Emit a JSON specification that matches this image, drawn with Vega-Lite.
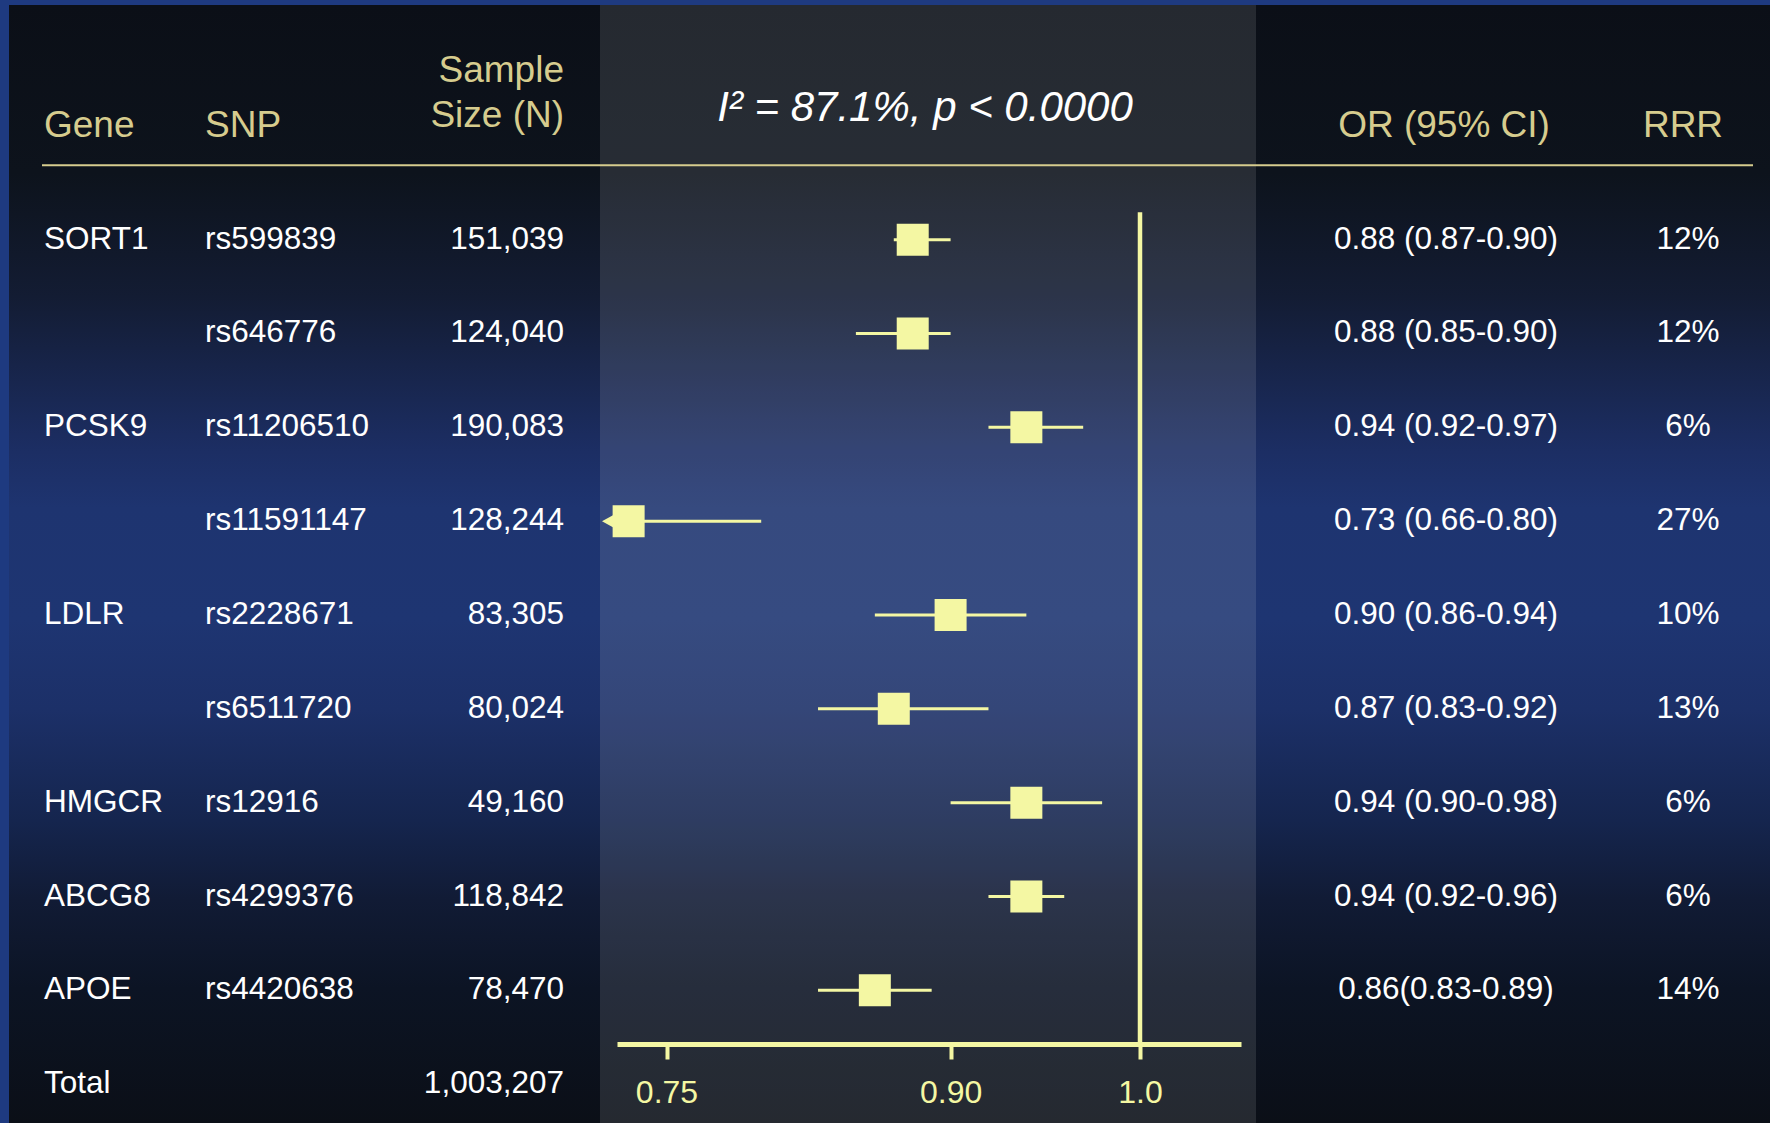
{
  "$schema": "https://vega.github.io/schema/vega-lite/v6.json",
  "width": 1761,
  "height": 1118,
  "autosize": "none",
  "padding": {"left": 9, "top": 5, "right": 0, "bottom": 0},
  "background": "#1e3a80",
  "config": {"view": {"stroke": null}, "font": "Liberation Sans"},
  "datasets": {
    "rows": [
      {"gene": "SORT1", "snp": "rs599839", "n": 151039, "or": 0.88, "lo": 0.87, "hi": 0.90, "ci": "0.88 (0.87-0.90)", "rrr": 0.12},
      {"gene": "SORT1", "snp": "rs646776", "n": 124040, "or": 0.88, "lo": 0.85, "hi": 0.90, "ci": "0.88 (0.85-0.90)", "rrr": 0.12},
      {"gene": "PCSK9", "snp": "rs11206510", "n": 190083, "or": 0.94, "lo": 0.92, "hi": 0.97, "ci": "0.94 (0.92-0.97)", "rrr": 0.06},
      {"gene": "PCSK9", "snp": "rs11591147", "n": 128244, "or": 0.73, "lo": 0.66, "hi": 0.80, "ci": "0.73 (0.66-0.80)", "rrr": 0.27},
      {"gene": "LDLR", "snp": "rs2228671", "n": 83305, "or": 0.90, "lo": 0.86, "hi": 0.94, "ci": "0.90 (0.86-0.94)", "rrr": 0.10},
      {"gene": "LDLR", "snp": "rs6511720", "n": 80024, "or": 0.87, "lo": 0.83, "hi": 0.92, "ci": "0.87 (0.83-0.92)", "rrr": 0.13},
      {"gene": "HMGCR", "snp": "rs12916", "n": 49160, "or": 0.94, "lo": 0.90, "hi": 0.98, "ci": "0.94 (0.90-0.98)", "rrr": 0.06},
      {"gene": "ABCG8", "snp": "rs4299376", "n": 118842, "or": 0.94, "lo": 0.92, "hi": 0.96, "ci": "0.94 (0.92-0.96)", "rrr": 0.06},
      {"gene": "APOE", "snp": "rs4420638", "n": 78470, "or": 0.86, "lo": 0.83, "hi": 0.89, "ci": "0.86(0.83-0.89)", "rrr": 0.14},
      {"gene": "Total", "snp": "Total", "n": 1003207}
    ],
    "headers": [
      {"col": "gene", "label": "Gene"},
      {"col": "snp", "label": "SNP"},
      {"col": "n", "label": "Sample\nSize (N)"},
      {"col": "or", "label": "OR (95% CI)"},
      {"col": "rrr", "label": "RRR"}
    ]
  },
  "resolve": {"scale": {"x": "independent"}},
  "layer": [
    {
      "data": {"values": [{}]},
      "mark": {
        "type": "rect",
        "fill": {
          "gradient": "linear", "x1": 0, "y1": 0, "x2": 0, "y2": 1,
          "stops": [
            {"offset": 0, "color": "#0b0f17"},
            {"offset": 0.15, "color": "#0d131c"},
            {"offset": 0.26, "color": "#131c33"},
            {"offset": 0.4, "color": "#1c2e64"},
            {"offset": 0.45, "color": "#1e3470"},
            {"offset": 0.55, "color": "#1e3572"},
            {"offset": 0.63, "color": "#1c3068"},
            {"offset": 0.73, "color": "#15254e"},
            {"offset": 0.8, "color": "#111b35"},
            {"offset": 0.88, "color": "#0c1424"},
            {"offset": 1, "color": "#0b0f17"}
          ]
        }
      },
      "encoding": {}
    },
    {
      "data": {"values": [{"part": "forest"}]},
      "mark": {"type": "rect", "fill": "#ffffff", "fillOpacity": 0.11},
      "encoding": {
        "x": {"field": "part", "type": "nominal", "scale": {"type": "band", "domain": ["forest"], "range": [591, 1247], "paddingInner": 0, "paddingOuter": 0}, "axis": null}
      }
    },
    {
      "data": {"values": [{}]},
      "mark": {"type": "rule", "color": "#d6cc8e", "strokeWidth": 2, "yOffset": 19.5},
      "encoding": {
        "x": {"datum": "first", "type": "nominal", "scale": {"type": "point", "domain": ["first", "last"], "range": [33, 1744], "padding": 0}, "axis": null},
        "x2": {"datum": "last"},
        "y": {"datum": "hdr", "type": "nominal", "scale": {"type": "point", "domain": ["hdr","rs599839","rs646776","rs11206510","rs11591147","rs2228671","rs6511720","rs12916","rs4299376","rs4420638","Total"], "range": [140.8, 1079.2], "padding": 0}, "axis": null}
      }
    },
    {
      "data": {"name": "headers"},
      "transform": [{"filter": {"field": "col", "oneOf": ["gene", "snp"]}}],
      "mark": {"type": "text", "align": "left", "baseline": "middle", "fontSize": 37, "color": "#d6cc8e", "dy": -19.5},
      "encoding": {
        "x": {"field": "col", "type": "nominal", "scale": {"type": "point", "domain": ["gene", "snp"], "range": [35, 196], "padding": 0}, "axis": null},
        "y": {"datum": "hdr", "type": "nominal", "scale": {"type": "point", "domain": ["hdr","rs599839","rs646776","rs11206510","rs11591147","rs2228671","rs6511720","rs12916","rs4299376","rs4420638","Total"], "range": [140.8, 1079.2], "padding": 0}, "axis": null},
        "text": {"field": "label", "type": "nominal"}
      }
    },
    {
      "data": {"name": "headers"},
      "transform": [{"filter": {"field": "col", "equal": "n"}}],
      "mark": {"type": "text", "align": "right", "baseline": "middle", "fontSize": 37, "color": "#d6cc8e", "dy": -74.5, "lineBreak": "\n", "lineHeight": 45},
      "encoding": {
        "x": {"field": "col", "type": "nominal", "scale": {"type": "point", "domain": ["n"], "range": [555, 555], "padding": 0}, "axis": null},
        "y": {"datum": "hdr", "type": "nominal", "scale": {"type": "point", "domain": ["hdr","rs599839","rs646776","rs11206510","rs11591147","rs2228671","rs6511720","rs12916","rs4299376","rs4420638","Total"], "range": [140.8, 1079.2], "padding": 0}, "axis": null},
        "text": {"field": "label", "type": "nominal"}
      }
    },
    {
      "data": {"name": "headers"},
      "transform": [{"filter": {"field": "col", "oneOf": ["or", "rrr"]}}],
      "mark": {"type": "text", "align": "center", "baseline": "middle", "fontSize": 37, "color": "#d6cc8e", "dy": -19.5},
      "encoding": {
        "x": {"field": "col", "type": "nominal", "scale": {"type": "point", "domain": ["or", "rrr"], "range": [1435, 1674], "padding": 0}, "axis": null},
        "y": {"datum": "hdr", "type": "nominal", "scale": {"type": "point", "domain": ["hdr","rs599839","rs646776","rs11206510","rs11591147","rs2228671","rs6511720","rs12916","rs4299376","rs4420638","Total"], "range": [140.8, 1079.2], "padding": 0}, "axis": null},
        "text": {"field": "label", "type": "nominal"}
      }
    },
    {
      "data": {"values": [{"part": "forest", "label": "I² = 87.1%, p < 0.0000"}]},
      "mark": {"type": "text", "align": "center", "baseline": "middle", "fontSize": 42, "fontStyle": "italic", "color": "#ffffff", "dy": -37.5},
      "encoding": {
        "x": {"field": "part", "type": "nominal", "bandPosition": 0.5, "scale": {"type": "band", "domain": ["forest"], "range": [588, 1244], "paddingInner": 0, "paddingOuter": 0}, "axis": null},
        "y": {"datum": "hdr", "type": "nominal", "scale": {"type": "point", "domain": ["hdr","rs599839","rs646776","rs11206510","rs11591147","rs2228671","rs6511720","rs12916","rs4299376","rs4420638","Total"], "range": [140.8, 1079.2], "padding": 0}, "axis": null},
        "text": {"field": "label", "type": "nominal"}
      }
    },
    {
      "data": {"name": "rows"},
      "transform": [
        {"window": [{"op": "row_number", "as": "k"}], "groupby": ["gene"]},
        {"filter": "datum.k == 1"}
      ],
      "mark": {"type": "text", "align": "left", "baseline": "middle", "fontSize": 31.5, "color": "#ffffff"},
      "encoding": {
        "x": {"datum": "gene", "type": "nominal", "scale": {"type": "point", "domain": ["gene", "snp"], "range": [35, 196], "padding": 0}, "axis": null},
        "y": {"field": "snp", "type": "nominal", "scale": {"type": "point", "domain": ["hdr","rs599839","rs646776","rs11206510","rs11591147","rs2228671","rs6511720","rs12916","rs4299376","rs4420638","Total"], "range": [140.8, 1079.2], "padding": 0}, "axis": null},
        "text": {"field": "gene", "type": "nominal"}
      }
    },
    {
      "data": {"name": "rows"},
      "transform": [{"filter": {"not": {"field": "snp", "equal": "Total"}}}],
      "mark": {"type": "text", "align": "left", "baseline": "middle", "fontSize": 31.5, "color": "#ffffff"},
      "encoding": {
        "x": {"datum": "snp", "type": "nominal", "scale": {"type": "point", "domain": ["gene", "snp"], "range": [35, 196], "padding": 0}, "axis": null},
        "y": {"field": "snp", "type": "nominal", "scale": {"type": "point", "domain": ["hdr","rs599839","rs646776","rs11206510","rs11591147","rs2228671","rs6511720","rs12916","rs4299376","rs4420638","Total"], "range": [140.8, 1079.2], "padding": 0}, "axis": null},
        "text": {"field": "snp", "type": "nominal"}
      }
    },
    {
      "data": {"name": "rows"},
      "mark": {"type": "text", "align": "right", "baseline": "middle", "fontSize": 31.5, "color": "#ffffff"},
      "encoding": {
        "x": {"datum": "n", "type": "nominal", "scale": {"type": "point", "domain": ["n"], "range": [555, 555], "padding": 0}, "axis": null},
        "y": {"field": "snp", "type": "nominal", "scale": {"type": "point", "domain": ["hdr","rs599839","rs646776","rs11206510","rs11591147","rs2228671","rs6511720","rs12916","rs4299376","rs4420638","Total"], "range": [140.8, 1079.2], "padding": 0}, "axis": null},
        "text": {"field": "n", "type": "quantitative", "format": ","}
      }
    },
    {
      "data": {"name": "rows"},
      "transform": [{"filter": "isValid(datum.ci)"}],
      "mark": {"type": "text", "align": "center", "baseline": "middle", "fontSize": 31.5, "color": "#ffffff"},
      "encoding": {
        "x": {"datum": "or", "type": "nominal", "scale": {"type": "point", "domain": ["or", "rrr"], "range": [1437, 1679], "padding": 0}, "axis": null},
        "y": {"field": "snp", "type": "nominal", "scale": {"type": "point", "domain": ["hdr","rs599839","rs646776","rs11206510","rs11591147","rs2228671","rs6511720","rs12916","rs4299376","rs4420638","Total"], "range": [140.8, 1079.2], "padding": 0}, "axis": null},
        "text": {"field": "ci", "type": "nominal"}
      }
    },
    {
      "data": {"name": "rows"},
      "transform": [{"filter": "isValid(datum.rrr)"}],
      "mark": {"type": "text", "align": "center", "baseline": "middle", "fontSize": 31.5, "color": "#ffffff"},
      "encoding": {
        "x": {"datum": "rrr", "type": "nominal", "scale": {"type": "point", "domain": ["or", "rrr"], "range": [1437, 1679], "padding": 0}, "axis": null},
        "y": {"field": "snp", "type": "nominal", "scale": {"type": "point", "domain": ["hdr","rs599839","rs646776","rs11206510","rs11591147","rs2228671","rs6511720","rs12916","rs4299376","rs4420638","Total"], "range": [140.8, 1079.2], "padding": 0}, "axis": null},
        "text": {"field": "rrr", "type": "quantitative", "format": ".0%"}
      }
    },
    {
      "data": {"values": [{"or": 1.0}]},
      "mark": {"type": "rule", "color": "#f4f7a3", "strokeWidth": 4.5, "yOffset": -27.5, "y2Offset": -40.5},
      "encoding": {
        "x": {
          "field": "or", "type": "quantitative",
          "scale": {"type": "linear", "domain": [0.72386, 1.05333], "range": [608, 1232], "clamp": true, "zero": false, "nice": false},
          "axis": {
            "orient": "bottom", "offset": -79, "values": [0.75, 0.9, 1.0], "zindex": 2,
            "labelExpr": "datum.value == 1 ? '1.0' : format(datum.value, '.2f')",
            "title": null, "grid": false,
            "domainColor": "#f4f7a3", "domainWidth": 5, "domainCap": "butt",
            "tickColor": "#f4f7a3", "tickWidth": 4, "tickSize": 15,
            "labelColor": "#f4f7a3", "labelFontSize": 32, "labelFont": "Liberation Sans",
            "labelPadding": 18, "labelFlush": false, "labelOverlap": false
          }
        },
        "y": {"datum": "rs599839", "type": "nominal", "scale": {"type": "point", "domain": ["hdr","rs599839","rs646776","rs11206510","rs11591147","rs2228671","rs6511720","rs12916","rs4299376","rs4420638","Total"], "range": [140.8, 1079.2], "padding": 0}, "axis": null},
        "y2": {"datum": "Total"}
      }
    },
    {
      "data": {"name": "rows"},
      "transform": [{"filter": {"field": "or", "valid": true}}],
      "layer": [
        {
          "mark": {"type": "rule", "color": "#f4f7a3", "strokeWidth": 3},
          "encoding": {
            "x": {"field": "lo", "type": "quantitative", "scale": {"type": "linear", "domain": [0.72386, 1.05333], "range": [608, 1232], "clamp": true, "zero": false, "nice": false}, "axis": null},
            "x2": {"field": "hi"},
            "y": {"field": "snp", "type": "nominal", "scale": {"type": "point", "domain": ["hdr","rs599839","rs646776","rs11206510","rs11591147","rs2228671","rs6511720","rs12916","rs4299376","rs4420638","Total"], "range": [140.8, 1079.2], "padding": 0}, "axis": null}
          }
        },
        {
          "transform": [{"filter": {"field": "lo", "lt": 0.72386}}],
          "mark": {"type": "point", "shape": "M -1 0 L 0 -0.55 L 0 0.55 Z", "filled": true, "size": 900, "color": "#f4f7a3", "opacity": 1, "strokeWidth": 0},
          "encoding": {
            "x": {"field": "lo", "type": "quantitative", "scale": {"type": "linear", "domain": [0.72386, 1.05333], "range": [608, 1232], "clamp": true, "zero": false, "nice": false}, "axis": null},
            "y": {"field": "snp", "type": "nominal", "scale": {"type": "point", "domain": ["hdr","rs599839","rs646776","rs11206510","rs11591147","rs2228671","rs6511720","rs12916","rs4299376","rs4420638","Total"], "range": [140.8, 1079.2], "padding": 0}, "axis": null}
          }
        },
        {
          "mark": {"type": "point", "shape": "square", "filled": true, "size": 1024, "color": "#f4f7a3", "opacity": 1, "strokeWidth": 0},
          "encoding": {
            "x": {"field": "or", "type": "quantitative", "scale": {"type": "linear", "domain": [0.72386, 1.05333], "range": [608, 1232], "clamp": true, "zero": false, "nice": false}, "axis": null},
            "y": {"field": "snp", "type": "nominal", "scale": {"type": "point", "domain": ["hdr","rs599839","rs646776","rs11206510","rs11591147","rs2228671","rs6511720","rs12916","rs4299376","rs4420638","Total"], "range": [140.8, 1079.2], "padding": 0}, "axis": null}
          }
        }
      ]
    }
  ]
}
